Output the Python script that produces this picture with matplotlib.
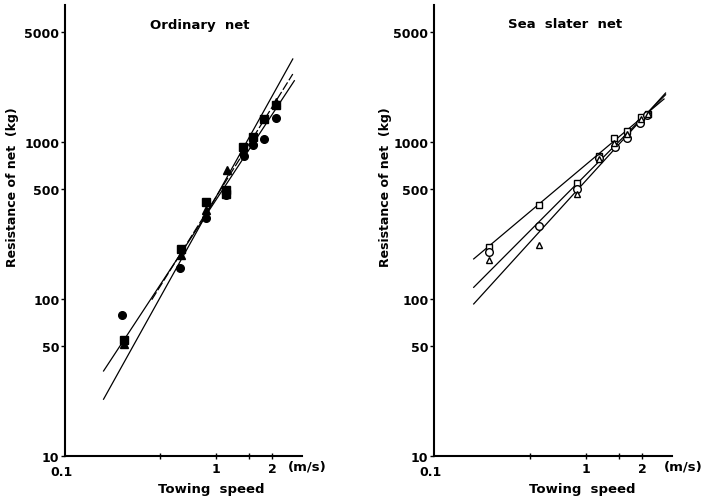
import matplotlib
matplotlib.use("Agg")
import matplotlib.pyplot as plt

# ---------------- data ----------------
# Ordinary net
ord_circ_x = [0.31, 0.637, 0.884, 1.13, 1.40, 1.58, 1.80, 2.10]
ord_circ_y = [79, 157, 330, 460, 818, 957, 1045, 1415]
ord_sq_x = [0.319, 0.642, 0.884, 1.13, 1.13, 1.39, 1.57, 1.81, 2.09]
ord_sq_y = [55, 208, 417, 497, 467, 925, 1072, 1400, 1720]
ord_tri_x = [0.319, 0.645, 0.884, 1.145, 1.39, 1.57, 2.09]
ord_tri_y = [51.7, 191, 370, 667, 880, 1019, 1790]
ord_line1_x = [0.248, 2.57]
ord_line1_y = [23, 3380]
ord_line2_x = [0.248, 2.62]
ord_line2_y = [34.8, 2457]
ord_line3_x = [0.45, 2.57]
ord_line3_y = [99, 2710]

# Sea slater net
sea_sq_x = [0.302, 0.56, 0.89, 1.18, 1.41, 1.65, 1.956, 2.14]
sea_sq_y = [213, 397, 548, 811, 1056, 1180, 1450, 1507]
sea_circ_x = [0.302, 0.56, 0.89, 1.18, 1.42, 1.66, 1.94, 2.13]
sea_circ_y = [198, 293, 502, 787, 925, 1060, 1321, 1493]
sea_tri_x = [0.302, 0.56, 0.89, 1.18, 1.41, 1.65, 1.956, 2.14]
sea_tri_y = [178, 221, 467, 780, 986, 1125, 1400, 1507]
sea_lineA_x = [0.251, 2.61]
sea_lineA_y = [180, 1879]
sea_lineB_x = [0.251, 2.66]
sea_lineB_y = [118.7, 2000]
sea_lineC_x = [0.251, 2.66]
sea_lineC_y = [93, 2051]

y_ticks = [10, 50, 100, 500, 1000, 5000]
y_ticklabels = ["10", "50", "100", "500", "1000", "5000"]
x_origin = 0.154
x_origin_label = "0.1"
x_ticks = [1, 2]
x_ticklabels = ["1", "2"]
x_minor = [0.5, 1.5]

# ---------------- figure ----------------
W, H = 702, 502
fig = plt.figure(figsize=(W / 100, H / 100), dpi=100)
plt.rcParams['font.family'] = ['DejaVu Sans']

def px_axes(x0, x1, ytop, ybot):
    return fig.add_axes([x0 / W, 1 - ybot / H, (x1 - x0) / W, (ybot - ytop) / H])

def ftext(x, y, s, **kw):
    fig.text(x / W, 1 - y / H, s, **kw)

axL = px_axes(65, 302, 6, 457)
axR = px_axes(434, 672, 6, 457)

for ax in (axL, axR):
    ax.set_xscale('log')
    ax.set_yscale('log')
    ax.set_xlim(x_origin, 2.88)
    ax.set_ylim(10, 7460)
    for s in ('top', 'right'):
        ax.spines[s].set_visible(False)
    for s in ('left', 'bottom'):
        ax.spines[s].set_linewidth(1.5)
    ax.set_yticks(y_ticks)
    ax.set_yticklabels(y_ticklabels, fontsize=9, fontweight='bold')
    ax.yaxis.set_minor_locator(matplotlib.ticker.NullLocator())
    ax.set_xticks(x_ticks)
    ax.set_xticklabels(x_ticklabels, fontsize=9, fontweight='bold')
    ax.set_xticks(x_minor, minor=True)
    ax.xaxis.set_minor_formatter(matplotlib.ticker.NullFormatter())
    ax.tick_params(axis='y', direction='out', length=3, width=1, pad=1)
    ax.tick_params(axis='x', which='both', direction='inout', length=4, width=1, pad=2)
    ax.set_facecolor('white')

# origin labels "0.1" just below the corner
ftext(61, 472, x_origin_label, fontsize=9, fontweight='bold', ha='center', va='center')
ftext(430, 472, x_origin_label, fontsize=9, fontweight='bold', ha='center', va='center')

# left panel
lw = 0.9
axL.plot(ord_line1_x, ord_line1_y, color='black', lw=lw)
axL.plot(ord_line2_x, ord_line2_y, color='black', lw=lw)
axL.plot(ord_line3_x, ord_line3_y, color='black', lw=lw, dashes=(7, 2))
axL.plot(ord_circ_x, ord_circ_y, 'o', color='black', ms=5.5, ls='none')
axL.plot(ord_sq_x, ord_sq_y, 's', color='black', ms=5.5, ls='none')
axL.plot(ord_tri_x, ord_tri_y, '^', color='black', ms=5.5, ls='none')

# right panel
axR.plot(sea_lineA_x, sea_lineA_y, color='black', lw=lw)
axR.plot(sea_lineB_x, sea_lineB_y, color='black', lw=lw)
axR.plot(sea_lineC_x, sea_lineC_y, color='black', lw=lw)
axR.plot(sea_sq_x, sea_sq_y, 's', mfc='white', mec='black', mew=1, ms=5, ls='none')
axR.plot(sea_circ_x, sea_circ_y, 'o', mfc='white', mec='black', mew=1, ms=5.5, ls='none')
axR.plot(sea_tri_x, sea_tri_y, '^', mfc='white', mec='black', mew=1, ms=4.5, ls='none')

tkw = dict(fontsize=9.5, fontweight='bold', ha='center', va='center')
ftext(200, 25, "Ordinary  net", **tkw)
ftext(565, 25, "Sea  slater  net", **tkw)
ftext(211, 490, "Towing  speed", **tkw)
ftext(582, 490, "Towing  speed", **tkw)
ftext(307, 467, "(m/s)", **tkw)
ftext(683, 467, "(m/s)", **tkw)
ykw = dict(fontsize=9, fontweight='bold', ha='center', va='center', rotation=90)
ftext(13, 187, "Resistance of net  (kg)", **ykw)
ftext(386, 187, "Resistance of net  (kg)", **ykw)

fig.savefig("out.png", dpi=100, facecolor='white')
